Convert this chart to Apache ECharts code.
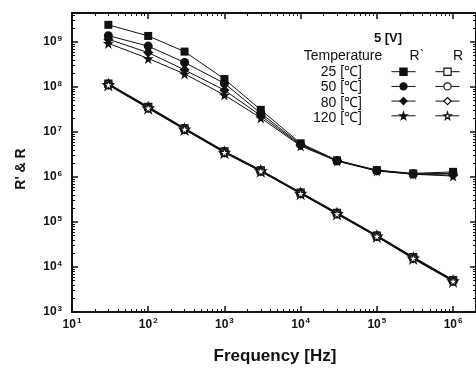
<!DOCTYPE html>
<html><head><meta charset="utf-8">
<script src="https://cdn.jsdelivr.net/npm/echarts@6/dist/echarts.min.js"></script>
<style>html,body{margin:0;padding:0;background:#fff}#c{width:476px;height:370px}</style>
</head><body><div id="c"></div>
<script>
// ---------- data ----------
const frequencies = [30, 100, 300, 1000, 3000, 10000, 30000, 100000, 300000, 1000000];
const temperatureLabels = ['25 [℃]', '50 [℃]', '80 [℃]', '120 [℃]'];
const rPrime25  = [2.4e9, 1.36e9, 6.1e8, 1.5e8, 3.1e7, 5.6e6, 2.35e6, 1.42e6, 1.2e6, 1.3e6];
const rPrime50  = [1.38e9, 8.1e8, 3.5e8, 1.2e8, 2.6e7, 5.3e6, 2.3e6, 1.4e6, 1.18e6, 1.2e6];
const rPrime80  = [1.15e9, 5.8e8, 2.4e8, 8.5e7, 2.3e7, 5.1e6, 2.3e6, 1.38e6, 1.16e6, 1.1e6];
const rPrime120 = [9.3e8, 4.3e8, 1.95e8, 6.6e7, 2.05e7, 4.9e6, 2.25e6, 1.36e6, 1.15e6, 1.05e6];
const r25  = [1.18e8, 3.6e7, 1.2e7, 3.7e6, 1.4e6, 4.5e5, 1.6e5, 5.0e4, 1.65e4, 5.1e3];
const r50  = [1.15e8, 3.5e7, 1.18e7, 3.6e6, 1.38e6, 4.4e5, 1.56e5, 4.9e4, 1.6e4, 5.0e3];
const r80  = [1.13e8, 3.45e7, 1.16e7, 3.55e6, 1.36e6, 4.35e5, 1.54e5, 4.85e4, 1.58e4, 4.9e3];
const r120 = [1.12e8, 3.4e7, 1.15e7, 3.5e6, 1.35e6, 4.3e5, 1.52e5, 4.8e4, 1.56e4, 4.85e3];
const xTickValues = [10, 100, 1000, 10000, 100000, 1000000];
const yTickValues = [1e3, 1e4, 1e5, 1e6, 1e7, 1e8, 1e9];
const xTitle = 'Frequency [Hz]';
const yTitle = "R' & R";
const voltageLabel = '5 [V]';
const headerLabels = ['Temperature', 'R`', 'R'];

// ---------- styling ----------
const FONT = '"Liberation Sans", Arial, Helvetica, sans-serif';
const INK = '#111';
const STAR = 'path://M50,0 L61,35 L98,35 L68,57 L79,91 L50,70 L21,91 L32,57 L2,35 L39,35 Z';
const symbols = ['rect', 'circle', 'diamond', STAR];
const symbolSizes = [8, 9, 10, 11];
const X_MIN = 10, X_MAX = 2e6, Y_MIN = 1e3, Y_MAX = 4.4e9;

function minorsOf(majors, max) {
  const out = [];
  majors.forEach(m => { for (let k = 2; k <= 9; k++) { const v = m * k; if (v < max) out.push(v); } });
  return out;
}
const xMinor = minorsOf(xTickValues, X_MAX);
const yMinor = minorsOf(yTickValues, Y_MAX);

const richLabel = {
  b: { fontSize: 12, fontWeight: 'bold', fontFamily: FONT, color: INK, lineHeight: 15 },
  s: { fontSize: 8, fontWeight: 'bold', fontFamily: FONT, color: INK, lineHeight: 9, verticalAlign: 'top', padding: [0, 0, 0, 1] }
};
function powLabel(v) { return '{b|10}{s|' + Math.round(Math.log10(v)) + '}'; }

function mkAxis(dim, pos, ticks, len, withLabels, withLine, margin) {
  const isX = dim === 'x';
  return {
    type: 'log', logBase: 10, position: pos,
    min: isX ? X_MIN : Y_MIN, max: isX ? X_MAX : Y_MAX,
    axisLine: { show: withLine, onZero: false, lineStyle: { color: INK, width: 2 } },
    axisTick: { show: true, inside: true, length: len, customValues: ticks,
                lineStyle: { color: INK, width: len > 4 ? 1.5 : 1 } },
    axisLabel: withLabels ? { show: true, customValues: ticks, margin: margin,
                formatter: powLabel, rich: richLabel } : { show: false },
    splitLine: { show: false }, minorTick: { show: false }, minorSplitLine: { show: false }
  };
}

const xAxes = [
  mkAxis('x', 'bottom', xTickValues, 6, true, true, 5),
  mkAxis('x', 'bottom', xMinor, 3, false, false),
  mkAxis('x', 'top', xTickValues, 6, false, true),
  mkAxis('x', 'top', xMinor, 3, false, false)
];
const yAxes = [
  mkAxis('y', 'left', yTickValues, 6, true, true, 10),
  mkAxis('y', 'left', yMinor, 3, false, false),
  mkAxis('y', 'right', yTickValues, 6, false, true),
  mkAxis('y', 'right', yMinor, 3, false, false)
];

function pairs(vals) { return frequencies.map((f, i) => [f, vals[i]]); }
const rPrimeSets = [rPrime25, rPrime50, rPrime80, rPrime120];
const rSets = [r25, r50, r80, r120];
const rPrimeNames = temperatureLabels.map(t => "R` " + t);
const rNames = temperatureLabels.map(t => 'R ' + t);

const series = [];
rSets.forEach((vals, i) => {
  series.push({
    name: rNames[i], type: 'line', data: pairs(vals), xAxisIndex: 0, yAxisIndex: 0,
    symbol: symbols[i], symbolSize: symbolSizes[i] - 1, showAllSymbol: true,
    lineStyle: { color: INK, width: 1.4 },
    itemStyle: { color: '#fff', borderColor: INK, borderWidth: 1.3 },
    emphasis: { disabled: true }, animation: false, z: 2
  });
});
rPrimeSets.forEach((vals, i) => {
  series.push({
    name: rPrimeNames[i], type: 'line', data: pairs(vals), xAxisIndex: 0, yAxisIndex: 0,
    symbol: symbols[i], symbolSize: symbolSizes[i], showAllSymbol: true,
    lineStyle: { color: INK, width: 1 },
    itemStyle: { color: INK, borderColor: INK, borderWidth: 0 },
    emphasis: { disabled: true }, animation: false, z: 3
  });
});

function legendCfg(names, left) {
  return {
    data: names, orient: 'vertical', left: left, top: 67.5, padding: 0,
    itemWidth: 24, itemHeight: 9, itemGap: 6.3, selectedMode: false,
    itemStyle: { borderWidth: 1.2 }, lineStyle: { width: 1 },
    formatter: () => '', textStyle: { fontSize: 9, lineHeight: 9 }
  };
}

function txt(text, x, y, font, align, rot) {
  return { type: 'text', x: x, y: y, rotation: rot || 0, silent: true,
    style: { text: text, font: font, fill: INK, align: align || 'center', verticalAlign: 'middle',
             textAlign: align || 'center', textVerticalAlign: 'middle' } };
}
const rowY = [72, 87.5, 103, 118.5];
const graphics = [
  txt(voltageLabel, 388, 38, 'bold 13px ' + FONT),
  txt(headerLabels[0], 343, 56, '14px ' + FONT),
  txt(headerLabels[1], 417, 56, '14px ' + FONT),
  txt(headerLabels[2], 458, 56, '14px ' + FONT),
  txt(xTitle, 275, 356, 'bold 17px ' + FONT),
  txt(yTitle, 21, 169, 'bold 14px ' + FONT, 'center', Math.PI / 2)
];
temperatureLabels.forEach((t, i) => graphics.push(txt(t, 362, rowY[i], '14px ' + FONT, 'right')));

const chart = echarts.init(document.getElementById('c'), null, { renderer: 'canvas' });
chart.setOption({
  backgroundColor: '#fff',
  animation: false,
  grid: { left: 72, top: 13, width: 408, height: 299, containLabel: false },
  xAxis: xAxes,
  yAxis: yAxes,
  legend: [legendCfg(rPrimeNames, 391), legendCfg(rNames, 435)],
  graphic: graphics,
  series: series
});
</script></body></html>
